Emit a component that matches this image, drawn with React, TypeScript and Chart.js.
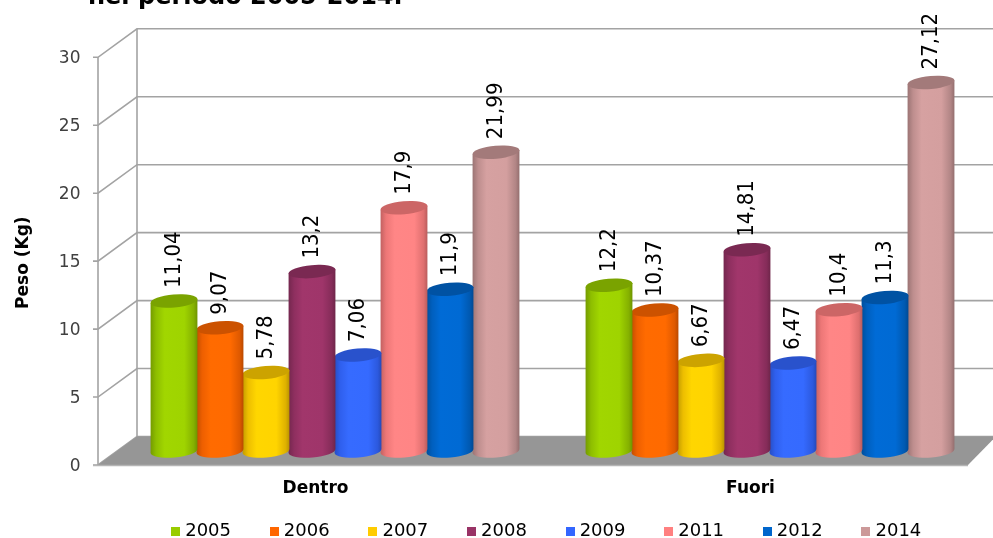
import React, { useEffect, useRef } from "react";
import { Chart, registerables, BarElement } from "chart.js";

Chart.register(...registerables);

const categories = ["Dentro", "Fuori"];
const years = ["2005", "2006", "2007", "2008", "2009", "2011", "2012", "2014"];
const v2005 = [11.04, 12.2];
const v2006 = [9.07, 10.37];
const v2007 = [5.78, 6.67];
const v2008 = [13.2, 14.81];
const v2009 = [7.06, 6.47];
const v2011 = [17.9, 10.4];
const v2012 = [11.9, 11.3];
const v2014 = [21.99, 27.12];
const seriesValues = [v2005, v2006, v2007, v2008, v2009, v2011, v2012, v2014];
const colors = ["#99CC00", "#FF6600", "#FFCC00", "#993366", "#3366FF", "#FF8080", "#0066CC", "#CC9999"];
const titleText = "nel periodo 2005-2014.";
const yTitle = "Peso (Kg)";

const FONT = "'DejaVu Sans', sans-serif";
const FRONT_X = 98, BACK_X = 137, FRONT_DY = 14, BACK_DY = -14.5, RIGHT_FRONT = 968, RIGHT_BACK = 996;
const TILT = -0.085, RY = 6.5;
const LEGEND_PADDING = 42.8, LEGEND_CENTER_Y = 533;

function shade(hex: string, f: number) {
  const n = parseInt(hex.slice(1), 16);
  const c = (s: number) => Math.max(0, Math.min(255, Math.round(((n >> s) & 255) * f)));
  return `rgb(${c(16)},${c(8)},${c(0)})`;
}

// Bars are drawn as tilted cylinders from the geometry the bar controller computes.
(BarElement.prototype as any).draw = function (ctx: CanvasRenderingContext2D) {
  const { x, y, base, width } = this.getProps(["x", "y", "base", "width"]);
  const color = this.options.backgroundColor as string;
  const rx = width / 2 + 0.5;
  const g = ctx.createLinearGradient(x - rx, 0, x + rx, 0);
  g.addColorStop(0, shade(color, 0.76));
  g.addColorStop(0.12, shade(color, 0.93));
  g.addColorStop(0.3, shade(color, 1.05));
  g.addColorStop(0.72, shade(color, 1.04));
  g.addColorStop(0.92, shade(color, 0.87));
  g.addColorStop(1, shade(color, 0.72));
  const ex = rx * Math.cos(TILT), ey = rx * Math.sin(TILT);
  ctx.save();
  ctx.beginPath();
  ctx.moveTo(x - ex, y - ey);
  ctx.lineTo(x - ex, base - ey);
  ctx.ellipse(x, base, rx, RY, TILT, Math.PI, 0, true);
  ctx.lineTo(x + ex, y + ey);
  ctx.closePath();
  ctx.fillStyle = g;
  ctx.fill();
  ctx.beginPath();
  ctx.ellipse(x, y, rx, RY, TILT, 0, Math.PI * 2);
  ctx.fillStyle = shade(color, 0.8);
  ctx.fill();
  ctx.restore();
};

const walls = {
  id: "walls",
  beforeLayout(chart: any) {
    const lg = chart.legend;
    if (lg && !lg.__fit) {
      lg.__fit = true;
      const f = lg.fit.bind(lg);
      lg.fit = () => {
        f();
        lg.height = 30;
      };
    }
  },
  afterLayout(chart: any) {
    chart.titleBlock.left = 88;
    chart.titleBlock.right = 993;
    const lg = chart.legend;
    lg.left += 109;
    lg.top = LEGEND_CENTER_Y - LEGEND_PADDING - 10.8;
    lg.bottom = 538;
    const s = chart.scales.y;
    if (!s.__shifted) {
      s.__shifted = true;
      const d = s.drawTitle.bind(s);
      s.drawTitle = () => {
        chart.ctx.save();
        chart.ctx.translate(0, 15.5);
        d();
        chart.ctx.restore();
      };
    }
  },
  beforeDatasetsDraw(chart: any) {
    const { ctx } = chart;
    const s = chart.scales.y;
    const y0 = s.getPixelForValue(0);
    const yMax = s.getPixelForValue(s.max);
    ctx.save();
    ctx.lineWidth = 1.6;
    ctx.strokeStyle = "#a3a3a3";
    s.ticks.forEach((t: any) => {
      const y = s.getPixelForValue(t.value);
      ctx.beginPath();
      ctx.moveTo(FRONT_X - 5, y + FRONT_DY);
      ctx.lineTo(FRONT_X, y + FRONT_DY);
      ctx.lineTo(BACK_X, y + BACK_DY);
      ctx.lineTo(993, y + BACK_DY);
      ctx.stroke();
    });
    ctx.beginPath();
    ctx.moveTo(FRONT_X, yMax + FRONT_DY);
    ctx.lineTo(FRONT_X, y0 + FRONT_DY);
    ctx.moveTo(BACK_X, yMax + BACK_DY);
    ctx.lineTo(BACK_X, y0 + BACK_DY);
    ctx.stroke();
    ctx.beginPath();
    ctx.moveTo(FRONT_X, y0 + FRONT_DY);
    ctx.lineTo(BACK_X, y0 + BACK_DY);
    ctx.lineTo(RIGHT_BACK, y0 + BACK_DY);
    ctx.lineTo(RIGHT_FRONT, y0 + FRONT_DY);
    ctx.closePath();
    ctx.fillStyle = "#969696";
    ctx.fill();
    ctx.beginPath();
    ctx.moveTo(FRONT_X - 5, y0 + FRONT_DY + 0.5);
    ctx.lineTo(RIGHT_FRONT, y0 + FRONT_DY + 0.5);
    ctx.strokeStyle = "#b5b5b5";
    ctx.stroke();
    ctx.restore();
  },
  afterDatasetsDraw(chart: any) {
    const { ctx } = chart;
    ctx.save();
    ctx.fillStyle = "#000";
    ctx.font = "22px 'DejaVu Sans Condensed', 'DejaVu Sans', sans-serif";
    ctx.textAlign = "left";
    ctx.textBaseline = "middle";
    chart.data.datasets.forEach((ds: any, i: number) => {
      chart.getDatasetMeta(i).data.forEach((el: any, j: number) => {
        ctx.save();
        ctx.translate(el.x, el.y - 13);
        ctx.rotate(-Math.PI / 2);
        ctx.fillText(String(ds.data[j]).replace(".", ","), 0, 0);
        ctx.restore();
      });
    });
    ctx.restore();
  },
};

function swatch(color: string) {
  const c = document.createElement("canvas");
  c.width = 9;
  c.height = 9;
  const x = c.getContext("2d")!;
  x.fillStyle = color;
  x.fillRect(0, 0, 9, 9);
  return c;
}

export default function App() {
  const ref = useRef<HTMLCanvasElement>(null);
  useEffect(() => {
    const chart = new Chart(ref.current!, {
      type: "bar",
      data: {
        labels: categories,
        datasets: years.map((y, i) => ({
          label: y,
          data: seriesValues[i],
          backgroundColor: colors[i],
          barPercentage: 1,
          categoryPercentage: 368 / 435,
          clip: false,
        })),
      },
      options: {
        responsive: false,
        animation: false,
        devicePixelRatio: 1,
        layout: { padding: { left: 0, top: 0, right: 5.5, bottom: 0 } },
        plugins: {
          tooltip: { enabled: false },
          title: {
            display: true,
            text: titleText,
            align: "start",
            color: "#000",
            font: { family: FONT, size: 24, weight: "bold" },
            padding: { top: -17, bottom: 31.5 },
          },
          legend: {
            position: "bottom",
            labels: {
              color: "#404040",
              font: { family: FONT, size: 18 },
              usePointStyle: true,
              boxWidth: 1,
              boxHeight: 9,
              pointStyleWidth: 1,
              padding: LEGEND_PADDING,
              generateLabels: (c: any) =>
                c.data.datasets.map((d: any, i: number) => ({
                  text: d.label,
                  fillStyle: colors[i],
                  strokeStyle: colors[i],
                  lineWidth: 0,
                  pointStyle: swatch(colors[i]),
                  datasetIndex: i,
                })),
            },
          },
        },
        scales: {
          x: {
            grid: { display: false },
            border: { display: false },
            afterFit: (s: any) => { s.height = 57; },
            ticks: {
              color: "#000",
              font: { family: FONT, size: 17, weight: "bold" },
              labelOffset: -19.5,
              padding: 19,
              maxRotation: 0,
              minRotation: 0,
            },
          },
          y: {
            min: 0,
            max: 30,
            grid: { display: false },
            border: { display: false },
            afterFit: (s: any) => { s.width = 117.5; },
            title: {
              display: true,
              text: yTitle,
              color: "#000",
              font: { family: FONT, size: 17, weight: "bold" },
              padding: { top: 13, bottom: 0 },
            },
            ticks: {
              stepSize: 5,
              color: "#404040",
              font: { family: FONT, size: 17 },
              labelOffset: 15.5,
              padding: 29,
            },
          },
        },
      },
      plugins: [walls],
    } as any);
    return () => chart.destroy();
  }, []);
  return (
    <canvas
      ref={ref}
      width={993}
      height={538}
      style={{ position: "absolute", left: 0, top: 0, display: "block" }}
    />
  );
}
